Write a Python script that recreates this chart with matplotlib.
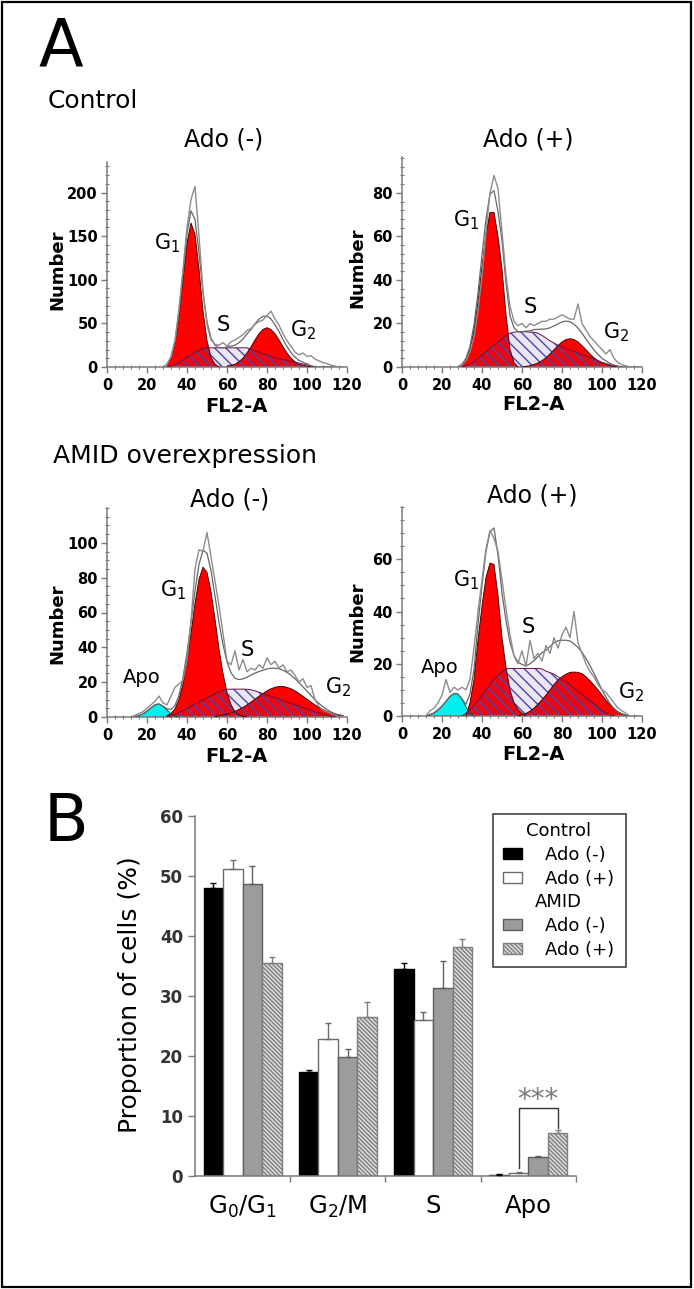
import numpy as np
import matplotlib
matplotlib.use("Agg")
import matplotlib.pyplot as plt
from matplotlib.patches import Patch, Rectangle
from matplotlib.ticker import MultipleLocator

plt.rcParams['font.family'] = ['DejaVu Sans']
plt.rcParams['mathtext.default'] = 'regular'
plt.rcParams['hatch.linewidth'] = 1.0

# ======================= DATA =======================
FL_STEP = 2                      # channel spacing of the digitised histograms
hist_xticks = [0, 20, 40, 60, 80, 100, 120]

# ---- Control, Ado (-) ----
cm_yticks = [0, 50, 100, 150, 200]
cm_g1_x0 = 30
cm_g1 = [3, 10, 27, 60, 100, 142, 165, 152, 112, 64, 30, 11, 3, 0]
cm_g2_x0 = 60
cm_g2 = [1, 2, 3, 6, 10, 16, 23, 31, 38, 43, 45, 43, 38, 31, 23, 16, 10, 6, 3, 2, 1, 0]
cm_s_x0 = 30
cm_s = [0, 1, 3, 5, 8, 11, 14, 17, 19, 21, 22, 22, 22, 22, 22, 22, 22, 22, 22, 22, 22,
        20, 18.5, 17, 15, 13.5, 12, 10.5, 9.5, 8.5, 7.5, 6.5, 5.5, 4.5, 3.5, 2.5, 1.5, 0]
cm_raw_x0 = 28
cm_raw = [0, 3, 12, 30, 66, 112, 160, 192, 207, 150, 88, 48, 31, 26, 25, 28, 24, 29, 31, 34,
          37, 42, 44, 49, 52, 54, 59, 64, 55, 48, 38, 30, 24, 17, 14, 16, 12, 13, 9, 7,
          5, 4, 2, 1, 0, 0]

# ---- Control, Ado (+) ----
cp_yticks = [0, 20, 40, 60, 80]
cp_g1_x0 = 28
cp_g1 = [0, 1.3, 3.5, 8, 17, 30, 46, 61, 71, 71, 60, 45, 24, 8, 2, 0]
cp_g2_x0 = 60
cp_g2 = [0, 0.3, 0.6, 1.2, 1.8, 2.9, 4.2, 6, 7.9, 9.8, 11.5, 12.6, 13, 12.6, 11.5, 9.8,
         7.9, 6, 4.2, 2.9, 1.8, 1.2, 0.6, 0.3, 0]
cp_s_x0 = 30
cp_s = [0, 0.5, 1.5, 2.5, 4, 5.5, 7, 8.5, 10, 11.5, 13, 14.5, 15.5, 16, 16.2, 16.2, 16.2,
        16, 16, 15.5, 14.5, 13.3, 12, 11, 10, 9.2, 8.5, 7.8, 7.1, 6.4, 5.7, 5, 4.3, 3.6,
        2.9, 2.2, 1.6, 1, 0.6, 0.3, 0]
cp_raw_x0 = 28
cp_raw = [0, 1, 3, 7, 14, 26, 42, 62, 80, 88, 82, 62, 42, 28, 21, 19, 20, 18, 20, 19,
          20, 21, 21, 22, 22, 23, 24, 23, 22, 22, 29, 20, 17, 14, 12, 10, 8, 6, 8, 4,
          2, 1, 0.5, 0, 0, 0]

# ---- AMID overexpression, Ado (-) ----
am_yticks = [0, 20, 40, 60, 80, 100]
am_apo_x0 = 12
am_apo = [0, 0.3, 0.8, 1.8, 3.3, 5.2, 7, 7.5, 6.2, 4, 1.8, 0.5, 0]
am_g1_x0 = 30
am_g1 = [0.7, 2, 4.6, 10, 19, 32, 48, 65, 79, 86, 83, 72, 56, 39, 25, 14, 7, 3, 1.2, 0.4, 0]
am_g2_x0 = 54
am_g2 = [0, 0.8, 1.2, 1.7, 2.4, 3.2, 4.3, 5.5, 6.9, 8.5, 10.2, 11.9, 13.5, 15, 16.2, 17,
         17.5, 17.5, 17, 16.2, 15, 13.5, 11.9, 10.2, 8.5, 6.9, 5.5, 4.3, 3.2, 2.4, 1.7,
         1.2, 0.8]
am_s_x0 = 30
am_s = [0, 0.5, 1.5, 2.5, 3.7, 5, 6.2, 7.4, 8.6, 9.8, 11, 12.2, 13.4, 14.5, 15.4, 15.9,
        16, 16, 16, 16, 15.9, 15.6, 15, 14.2, 13.4, 12.6, 11.8, 11, 10.2, 9.4, 8.6, 7.8,
        7, 6.2, 5.4, 4.6, 3.8, 3, 2.3, 1.6, 1, 0.5, 0.2, 0]
am_raw_x0 = 12
am_raw = [0, 1, 2, 3, 5, 7, 9, 12, 8, 7, 12, 17, 19, 21, 33, 55, 85, 96, 95, 106,
          92, 78, 64, 48, 32, 30, 38, 27, 33, 26, 28, 27, 30, 28, 34, 30, 32, 28, 30, 26,
          27, 24, 20, 22, 17, 18, 10, 6, 4, 3, 2, 1, 0, 0]

# ---- AMID overexpression, Ado (+) ----
ap_yticks = [0, 20, 40, 60]
ap_apo_x0 = 12
ap_apo = [0, 0.5, 1.2, 2.3, 3.8, 5.6, 7.5, 8.6, 8.4, 6.5, 3.5, 1, 0]
ap_g1_x0 = 32
ap_g1 = [0, 5, 14, 29, 42, 53, 58.5, 58, 46, 30, 18.5, 10, 5, 2.5, 1, 0]
ap_g2_x0 = 58
ap_g2 = [0, 0.5, 1, 1.8, 3, 4.5, 6.2, 8, 10, 12, 13.8, 15, 16, 16.7, 16.8, 16.7, 16.2, 15,
         13.5, 11.8, 10, 8, 6, 4.2, 2.8, 1.6, 0.8, 0.3, 0]
ap_s_x0 = 30
ap_s = [0, 1, 2.5, 4, 6, 8, 10, 12, 14, 15.5, 17, 18, 18.2, 18.2, 18.2, 18.2, 18.2, 18.2,
        18.2, 18.2, 18, 17.2, 16.6, 16, 15, 14, 13, 12, 10.8, 9.5, 8.2, 7, 5.8, 4.5, 3.2,
        2, 1.2, 0.5, 0]
ap_raw_x0 = 12
ap_raw = [0, 2, 3, 5, 8, 14, 9, 11, 10, 11, 10, 14, 26, 40, 52, 64, 71, 68, 63, 52,
          41, 31, 23, 20, 25, 19, 29, 22, 24, 21, 27, 24, 30, 26, 31, 34, 30, 40, 28, 24,
          20, 17, 15, 12, 10, 9, 7, 5, 3, 2, 1, 0, 0, 0]

# ---- Panel B: proportion of cells (%) ----
phases = [r'$G_0/G_1$', r'$G_2/M$', 'S', 'Apo']
ctrl_ado_minus = [48.0, 17.3, 34.5, 0.2]
ctrl_ado_minus_err = [0.8, 0.3, 1.0, 0.1]
ctrl_ado_plus = [51.2, 22.8, 26.0, 0.5]
ctrl_ado_plus_err = [1.5, 2.7, 1.3, 0.2]
amid_ado_minus = [48.7, 19.8, 31.3, 3.2]
amid_ado_minus_err = [3.0, 1.4, 4.5, 0.15]
amid_ado_plus = [35.5, 26.5, 38.2, 7.2]
amid_ado_plus_err = [1.0, 2.5, 1.3, 0.5]
bar_yticks = [0, 10, 20, 30, 40, 50, 60]
legend_groups = ['Control', 'AMID']
legend_labels = ['Ado (-)', 'Ado (+)']
sig_level = 11.3
sig_text = '***'

# ======================= FIGURE =======================
W, H = 694, 1289
fig = plt.figure(figsize=(W / 100, H / 100), dpi=100)


def fx(px):
    return px / W


def fy(py):
    return 1 - py / H


def axes_px(left, top, right, bottom):
    return fig.add_axes([fx(left), fy(bottom), fx(right) - fx(left), fy(top) - fy(bottom)])


def ftext(px, py, s, **kw):
    return fig.text(fx(px), fy(py), s, **kw)


def ser(x0, vals):
    v = np.asarray(vals, float)
    return x0 + FL_STEP * np.arange(v.size), v


def fit_sum(raw_x, comps):
    tot = np.zeros(raw_x.size)
    for cx, cy in comps:
        for xv, yv in zip(cx, cy):
            hit = np.nonzero(raw_x == xv)[0]
            if hit.size:
                tot[hit[0]] += yv
    return tot


RED = '#ff0000'
RED_EDGE = '#4a0000'
CYAN = '#00f0f0'
HATCH_C = '#4848ae'
S_EDGE = '#6a1040'
AXG = '#7a7a7a'


def hist_panel(rect, g1, g2, s, raw, apo, ymax, yticks, yminor, labels):
    ax = axes_px(*rect)
    ax.patch.set_visible(False)
    rx, ry = ser(*raw)
    comps = [ser(*g1), ser(*g2), ser(*s)]
    if apo is not None:
        ax_apo = ser(*apo)
        comps.append(ax_apo)
        ax.fill_between(ax_apo[0], 0, ax_apo[1], facecolor=CYAN, edgecolor='none', zorder=1.5)
        ax.plot(ax_apo[0], ax_apo[1], color='#105050', lw=0.7, zorder=3)
    for cx, cy in comps[:2]:
        ax.fill_between(cx, 0, cy, facecolor=RED, edgecolor='none', zorder=1.5)
    sx, sy = comps[2]
    ax.fill_between(sx, 0, sy, facecolor=(0.35, 0.2, 0.62, 0.12), edgecolor='none',
                    zorder=1.6)
    ax.fill_between(sx, 0, sy, facecolor='none', edgecolor=HATCH_C, hatch='\\' * 3,
                    linewidth=0, zorder=1.7)
    for cx, cy in comps[:2]:
        ax.plot(cx, cy, color=RED_EDGE, lw=0.7, zorder=3)
    ax.plot(sx, sy, color=S_EDGE, lw=0.7, zorder=3)
    ax.plot(rx, fit_sum(rx, comps), color='#666666', lw=0.9, zorder=4)
    ax.plot(rx, ry, color='#8c8c8c', lw=1.0, zorder=5)

    ax.set_xlim(0, 120)
    ax.set_ylim(0, ymax)
    for sp in ('top', 'right'):
        ax.spines[sp].set_visible(False)
    for sp in ('left', 'bottom'):
        ax.spines[sp].set_color(AXG)
        ax.spines[sp].set_linewidth(1.1)
    ax.set_xticks(hist_xticks)
    ax.set_xticklabels([str(t) for t in hist_xticks], fontweight='bold')
    ax.set_yticks(yticks)
    ax.set_yticklabels([str(t) for t in yticks], fontweight='bold')
    ax.xaxis.set_minor_locator(MultipleLocator(4))
    ax.yaxis.set_minor_locator(MultipleLocator(yminor))
    ax.tick_params(which='major', direction='out', length=4, width=1, color=AXG,
                   labelsize=10.5, pad=2.5)
    ax.tick_params(axis='x', which='major', pad=4)
    ax.tick_params(which='minor', direction='inout', length=3, width=0.8, color=AXG)
    for (tx, ty, s_, ha) in labels:
        ax.text(tx, ty, s_, ha=ha, va='center', fontsize=15 if s_ != 'Apo' else 14, zorder=6)
    return ax


G1 = r'G$_{1}$'
G2 = r'G$_{2}$'

hist_panel((107, 162, 347, 367), (cm_g1_x0, cm_g1), (cm_g2_x0, cm_g2), (cm_s_x0, cm_s),
           (cm_raw_x0, cm_raw), None, 235, cm_yticks, 10,
           [(23.5, 142, G1, 'left'), (58, 48, 'S', 'center'), (91.5, 42, G2, 'left')])
hist_panel((402, 157, 642, 367), (cp_g1_x0, cp_g1), (cp_g2_x0, cp_g2), (cp_s_x0, cp_s),
           (cp_raw_x0, cp_raw), None, 96.5, cp_yticks, 4,
           [(25.5, 67.6, G1, 'left'), (64, 27.6, 'S', 'center'), (100.5, 16, G2, 'left')])
hist_panel((107, 508, 347, 717), (am_g1_x0, am_g1), (am_g2_x0, am_g2), (am_s_x0, am_s),
           (am_raw_x0, am_raw), (am_apo_x0, am_apo), 120, am_yticks, 5,
           [(26.5, 73, G1, 'left'), (70, 38.5, 'S', 'center'), (109, 17, G2, 'left'),
            (17.5, 22.4, 'Apo', 'center')])
hist_panel((402, 507, 642, 716), (ap_g1_x0, ap_g1), (ap_g2_x0, ap_g2), (ap_s_x0, ap_s),
           (ap_raw_x0, ap_raw), (ap_apo_x0, ap_apo), 80, ap_yticks, 5,
           [(25.5, 52, G1, 'left'), (63, 34, 'S', 'center'), (108, 9, G2, 'left'),
            (19, 18.5, 'Apo', 'center')])

# panel texts
ftext(38, 65, 'A', fontsize=47, ha='left', va='baseline')
ftext(44, 841, 'B', fontsize=47, ha='left', va='baseline')
ftext(48, 108, 'Control', fontsize=18, ha='left', va='baseline')
ftext(53, 463, 'AMID overexpression', fontsize=18, ha='left', va='baseline')
for (cx, by, t) in [(224, 146, 'Ado (-)'), (528, 147, 'Ado (+)'),
                    (230, 506, 'Ado (-)'), (532, 503, 'Ado (+)')]:
    ftext(cx, by, t, fontsize=17, ha='center', va='baseline')
for (cx, cy) in [(57, 270), (357, 268), (57, 624), (357, 622)]:
    ftext(cx, cy, 'Number', fontsize=13, fontweight='bold', rotation=90,
          ha='center', va='center')
for (cx, cy) in [(236, 407), (533, 405), (236, 757), (533, 755)]:
    ftext(cx, cy, 'FL2-A', fontsize=14, fontweight='bold', ha='center', va='center')

# ======================= PANEL B =======================
axb = axes_px(195, 816, 576, 1176)
axb.patch.set_visible(False)
bx = np.arange(len(phases)) + 0.5
bw = 0.205
bar_series = [
    (ctrl_ado_minus, ctrl_ado_minus_err, dict(facecolor='black', edgecolor='black'), 'black'),
    (ctrl_ado_plus, ctrl_ado_plus_err, dict(facecolor='white', edgecolor='#6a6a6a'), '#6a6a6a'),
    (amid_ado_minus, amid_ado_minus_err, dict(facecolor='#9c9c9c', edgecolor='#5e5e5e'), '#5e5e5e'),
    (amid_ado_plus, amid_ado_plus_err, dict(facecolor='#dedede', edgecolor='#7e7e7e',
                                            hatch='\\' * 8), '#7e7e7e'),
]
xs_all = []
for k, (vals, errs, style, ecol) in enumerate(bar_series):
    xs = bx + (k - 1.5) * bw
    xs_all.append(xs)
    axb.bar(xs, vals, width=bw, linewidth=1.0, zorder=2, **style)
    axb.errorbar(xs, vals, yerr=[np.zeros(len(vals)), errs], fmt='none', ecolor=ecol,
                 elinewidth=1, capsize=2.5, capthick=1, zorder=3)

# significance bracket (Apo: control Ado(+) vs AMID Ado(+))
xa, xb = xs_all[1][3], xs_all[3][3]
ya = ctrl_ado_plus[3] + ctrl_ado_plus_err[3] + 0.6
yb = amid_ado_plus[3] + amid_ado_plus_err[3] + 0.3
axb.plot([xa, xa, xb, xb], [ya, sig_level, sig_level, yb], color='#333333', lw=1.0, zorder=4)
axb.text((xa + xb) / 2, sig_level + 0.1, sig_text, ha='center', va='baseline',
         fontsize=20, color='#7a7a7a')

axb.set_xlim(0, len(phases))
axb.set_ylim(0, 60)
for sp in ('top', 'right'):
    axb.spines[sp].set_visible(False)
for sp in ('left', 'bottom'):
    axb.spines[sp].set_color(AXG)
    axb.spines[sp].set_linewidth(1.1)
axb.set_yticks(bar_yticks)
axb.set_yticklabels([str(t) for t in bar_yticks], fontweight='bold', color='#333333')
axb.tick_params(axis='y', direction='out', length=5, width=1, color=AXG, labelsize=12, pad=3.5)
axb.set_xticks(np.arange(1, len(phases) + 1))
axb.set_xticklabels([])
axb.set_xticks(bx, minor=True)
axb.set_xticklabels(phases, minor=True, fontsize=17.5)
axb.tick_params(axis='x', which='major', direction='out', length=4, width=1, color=AXG)
axb.tick_params(axis='x', which='minor', length=0, pad=13)
ftext(130, 995, 'Proportion of cells (%)', fontsize=18, rotation=90, ha='center', va='center')

# legend: two titled groups inside one frame
h = [Patch(**bar_series[i][2]) for i in range(4)]
leg_kw = dict(frameon=False, loc='upper left', bbox_transform=fig.transFigure,
              fontsize=13, title_fontsize=13, borderpad=0, borderaxespad=0,
              handlelength=1.05, handleheight=0.55, handletextpad=1.25, labelspacing=0.32)
leg1 = axb.legend(h[:2], legend_labels, title=legend_groups[0],
                  bbox_to_anchor=(fx(503), fy(822)), **leg_kw)
axb.add_artist(leg1)
leg2 = axb.legend(h[2:], legend_labels, title=legend_groups[1],
                  bbox_to_anchor=(fx(503), fy(893)), **leg_kw)
fig.add_artist(Rectangle((fx(493), fy(967)), fx(626) - fx(493), fy(814) - fy(967),
                         transform=fig.transFigure, fill=False, edgecolor='#444444', lw=1.2))

# outer frame
fig.add_artist(Rectangle((fx(2), fy(1287)), fx(691) - fx(2), fy(2) - fy(1287),
                         transform=fig.transFigure, fill=False, edgecolor='black', lw=1.6))

fig.savefig('out.png', dpi=100)
